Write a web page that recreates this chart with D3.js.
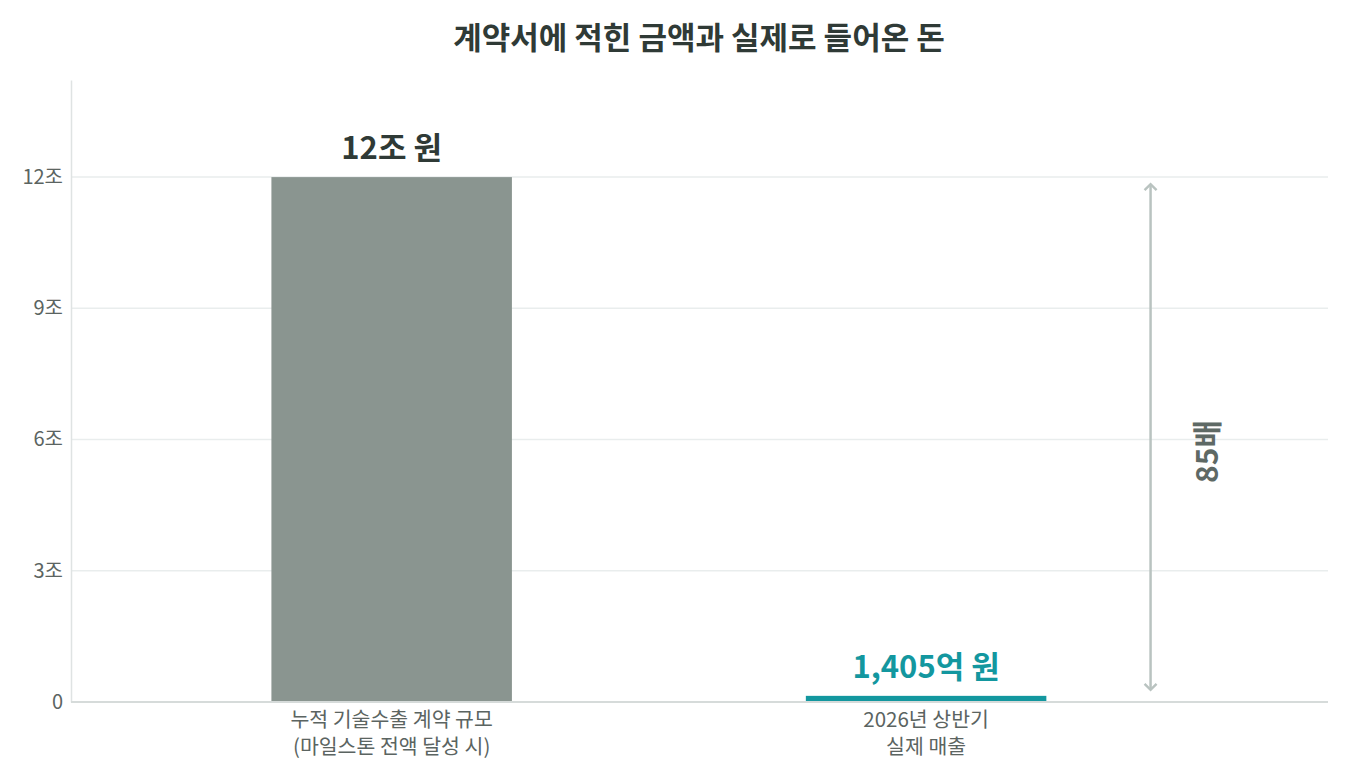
<!DOCTYPE html>
<html>
<head>
<meta charset="utf-8">
<script src="https://cdn.jsdelivr.net/npm/d3@7"></script>
<style>
  body { margin: 0; background: #fff; }
  svg { font-family: "Noto Sans CJK KR", "Noto Sans", sans-serif; }
</style>
</head>
<body>
<div id="chart"></div>
<script>
// chart data
var categories = ["누적 기술수출 계약 규모|(마일스톤 전액 달성 시)", "2026년 상반기|실제 매출"];
var values = [12, 0.1405]; // 조 원
var valueLabels = ["12조 원", "1,405억 원"];
var yTicks = [0, 3, 6, 9, 12];
var yTickLabels = ["0", "3조", "6조", "9조", "12조"];
var ratioLabel = "85배";

var svgWidth = 1350;
var svgHeight = 780;
var margin = { top: 80, right: 22, bottom: 78, left: 71 };
var width = svgWidth - margin.left - margin.right;
var height = svgHeight - margin.top - margin.bottom;

var svg = d3.select("#chart")
  .append("svg")
  .attr("width", svgWidth)
  .attr("height", svgHeight);

// title
svg.append("text")
  .attr("x", 699)
  .attr("y", 49)
  .attr("text-anchor", "middle")
  .attr("font-size", 31)
  .attr("font-weight", 700)
  .attr("fill", "#2f3a36")
  .text("계약서에 적힌 금액과 실제로 들어온 돈");

var chartGroup = svg.append("g")
  .attr("transform", `translate(${margin.left}, ${margin.top})`);

// scales: bars sit at index 0 and 1, extra room on the right for the ratio arrow
var xScale = d3.scaleLinear().domain([-0.6, 1.752]).range([0, width]);
var yScale = d3.scaleLinear().domain([0, 14.22]).range([height, 0]);
var barW = xScale(0.45) - xScale(0);

// gridlines
chartGroup.selectAll(".grid")
  .data(yTicks.slice(1))
  .enter()
  .append("line")
  .attr("x1", 0)
  .attr("x2", width)
  .attr("y1", d => yScale(d))
  .attr("y2", d => yScale(d))
  .attr("stroke", "#e9eded")
  .attr("stroke-width", 1.5);

// y axis
var leftAxis = d3.axisLeft(yScale)
  .tickValues(yTicks)
  .tickFormat((d, i) => yTickLabels[i])
  .tickSize(0)
  .tickPadding(8);

var yAxis = chartGroup.append("g").call(leftAxis);
yAxis.select(".domain").attr("stroke", "#dfe3e3").attr("stroke-width", 1.5);
yAxis.selectAll("text")
  .attr("font-size", 20)
  .attr("fill", "#5b6461")
  .attr("font-family", "Noto Sans CJK KR");

// bars
chartGroup.selectAll(".bar")
  .data(values)
  .enter()
  .append("rect")
  .attr("x", (d, i) => xScale(i) - barW / 2)
  .attr("y", d => yScale(d))
  .attr("width", barW)
  .attr("height", d => height - yScale(d))
  .attr("fill", (d, i) => i === 0 ? "#8a9590" : "#13979f");

// baseline
chartGroup.append("line")
  .attr("x1", 0)
  .attr("x2", width)
  .attr("y1", height)
  .attr("y2", height)
  .attr("stroke", "#d6dbda")
  .attr("stroke-width", 2);

// value labels
chartGroup.selectAll(".vlabel")
  .data(values)
  .enter()
  .append("text")
  .attr("x", (d, i) => xScale(i))
  .attr("y", d => yScale(d) - 18)
  .attr("text-anchor", "middle")
  .attr("font-size", 31)
  .attr("font-weight", 700)
  .attr("fill", (d, i) => i === 0 ? "#2f3a36" : "#13979f")
  .text((d, i) => valueLabels[i]);

// category labels (two lines)
var catText = chartGroup.selectAll(".cat")
  .data(categories)
  .enter()
  .append("text")
  .attr("text-anchor", "middle")
  .attr("font-size", 20.5)
  .attr("fill", "#5b6461");

catText.selectAll("tspan")
  .data((d, i) => d.split("|").map(s => ({ s: s, i: i })))
  .enter()
  .append("tspan")
  .attr("x", d => xScale(d.i))
  .attr("y", (d, j) => height + 25 + j * 27)
  .text(d => d.s);

// ratio arrow
var defs = svg.append("defs");
["start", "end"].forEach(function(k) {
  defs.append("marker")
    .attr("id", "arr-" + k)
    .attr("viewBox", "0 0 10 10")
    .attr("refX", 5)
    .attr("refY", 5)
    .attr("markerWidth", 6)
    .attr("markerHeight", 6)
    .attr("orient", k === "start" ? "auto-start-reverse" : "auto")
    .append("path")
    .attr("d", "M1,1 L5,5 L1,9")
    .attr("fill", "none")
    .attr("stroke", "#b9c3c0")
    .attr("stroke-width", 1.6);
});

var arrowX = xScale(1.42);
chartGroup.append("line")
  .attr("x1", arrowX)
  .attr("x2", arrowX)
  .attr("y1", yScale(values[0]) + 7)
  .attr("y2", yScale(values[1]) - 6)
  .attr("stroke", "#b9c3c0")
  .attr("stroke-width", 2.5)
  .attr("marker-start", "url(#arr-start)")
  .attr("marker-end", "url(#arr-end)");

var ratioY = (yScale(values[0]) + yScale(values[1])) / 2 + 15;
chartGroup.append("text")
  .attr("transform", `translate(${xScale(1.527)}, ${ratioY}) rotate(-90)`)
  .attr("text-anchor", "middle")
  .attr("dy", "0.35em")
  .attr("font-size", 30)
  .attr("font-weight", 700)
  .attr("fill", "#5e6965")
  .text(ratioLabel);
</script>
</body>
</html>
